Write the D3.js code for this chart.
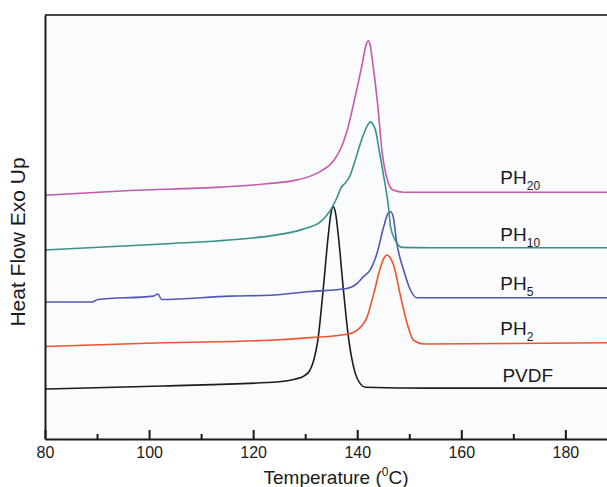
<!DOCTYPE html>
<html>
<head>
<meta charset="utf-8">
<script src="https://cdn.jsdelivr.net/npm/d3@7"></script>
<style>
  html, body { margin: 0; padding: 0; background: #ffffff; }
  svg { display: block; }
  text { font-family: Arial, "Liberation Sans", Helvetica, sans-serif; fill: #1a1a1a; }
</style>
</head>
<body>
<div id="chart"></div>
<script>
// ---- data (temperature °C, heat flow in arbitrary units) ----
const xTicksMajor = [80, 100, 120, 140, 160, 180];
const xTicksMinor = [90, 110, 130, 150, 170];

const pvdf = [
  [80, 1.18], [102.7, 1.25], [125.0, 1.35], [128.0, 1.41], [129.8, 1.49],
  [130.9, 1.62], [131.7, 1.88], [132.4, 2.30], [133.5, 3.58], [134.4, 4.76], [134.9, 5.28],
  [135.4, 5.48], [135.9, 5.28], [136.4, 4.76], [137.3, 3.58], [138.3, 2.41],
  [139.6, 1.56], [140.6, 1.30], [141.6, 1.22], [154.1, 1.20], [188, 1.20]
];
const ph2 = [
  [80, 2.18], [102.7, 2.27], [123.3, 2.33], [131.0, 2.39], [138.0, 2.47],
  [140.0, 2.57], [141.9, 2.88], [143.2, 3.44], [144.5, 4.06], [145.2, 4.28],
  [145.7, 4.34], [146.3, 4.28], [147.0, 4.10], [148.3, 3.38], [149.6, 2.72],
  [150.8, 2.33], [152.8, 2.24], [188, 2.27]
];
const ph5 = [
  [80, 3.23], [89.0, 3.23], [90.2, 3.29], [100.8, 3.37], [101.7, 3.42],
  [102.4, 3.29], [115.6, 3.37], [123.3, 3.39], [131.0, 3.48], [138.0, 3.55],
  [140.0, 3.67], [141.2, 3.83], [142.5, 3.99], [143.8, 4.38], [145.1, 5.01],
  [145.9, 5.32], [146.4, 5.36], [146.9, 5.25], [147.6, 4.62], [148.9, 3.99],
  [150.2, 3.52], [151.5, 3.33], [188, 3.33]
];
const ph10 = [
  [80, 4.46], [102.7, 4.60], [118.9, 4.73], [123.3, 4.79], [129.6, 4.95],
  [132.9, 5.12], [135.2, 5.47], [136.2, 5.72], [136.9, 5.93], [137.7, 6.04],
  [138.5, 6.18], [139.3, 6.45], [140.6, 6.97], [141.9, 7.38], [142.5, 7.48],
  [143.5, 7.29], [144.1, 6.89], [145.1, 6.19], [146.0, 5.48], [146.4, 5.01],
  [147.3, 4.69], [148.6, 4.52], [154.1, 4.51], [188, 4.51]
];
const ph20 = [
  [80, 5.75], [96.4, 5.86], [113.7, 5.94], [122.7, 6.02], [128.0, 6.10],
  [131.0, 6.20], [133.2, 6.33], [135.4, 6.55], [136.9, 6.87], [138.1, 7.29],
  [139.6, 8.07], [141.0, 8.87], [141.6, 9.25], [142.1, 9.39], [142.5, 9.28],
  [142.9, 8.94], [143.9, 7.92], [144.8, 6.75], [145.8, 6.11], [146.9, 5.87],
  [148.9, 5.82], [188, 5.82]
];

const seriesNames = ["PVDF", "PH2", "PH5", "PH10", "PH20"];
const seriesData = [pvdf, ph2, ph5, ph10, ph20];
const seriesColors = ["#1c1c1c", "#f0532f", "#5257b4", "#3c8f8b", "#c45ab0"];
// label anchor positions (temperature, heat flow) and text parts
const labelMain = ["PVDF", "PH", "PH", "PH", "PH"];
const labelSub = ["", "2", "5", "10", "20"];
const labelPos = [[167.9, 1.34], [167.5, 2.45], [167.5, 3.51], [167.5, 4.67], [167.5, 6.01]];

// ---- chart ----
const W = 607, H = 487;
const svg = d3.select("#chart").append("svg").attr("width", W).attr("height", H);

svg.append("rect").attr("x", 0).attr("y", 0).attr("width", W).attr("height", H).attr("fill", "#ffffff");
svg.append("rect").attr("x", 45).attr("y", 15).attr("width", W - 45).attr("height", 424).attr("fill", "#fafbfd");

const x = d3.scaleLinear().domain([80, 188]).range([45, 607]);
const y = d3.scaleLinear().domain([0, 10]).range([439, 15]);

const line = d3.line().x(d => x(d[0])).y(d => y(d[1])).curve(d3.curveMonotoneX);

seriesData.forEach((s, i) => {
  svg.append("path")
    .datum(s)
    .attr("fill", "none")
    .attr("stroke", seriesColors[i])
    .attr("stroke-width", 1.6)
    .attr("stroke-linejoin", "round")
    .attr("d", line);
});

// labels
labelMain.forEach((t, i) => {
  const txt = svg.append("text")
    .attr("x", x(labelPos[i][0]))
    .attr("y", y(labelPos[i][1]))
    .attr("font-size", 19);
  txt.append("tspan").text(t);
  if (labelSub[i]) {
    txt.append("tspan").attr("dy", 6).attr("font-size", 12).text(labelSub[i]);
  }
});

// top border
svg.append("line").attr("x1", 45).attr("x2", W).attr("y1", 15).attr("y2", 15)
  .attr("stroke", "#444").attr("stroke-width", 2);

// left axis (no ticks)
const yAxis = d3.axisLeft(y).tickValues([]).tickSizeOuter(0);
svg.append("g").attr("transform", "translate(45,0)").call(yAxis)
  .call(g => g.select(".domain").attr("stroke", "#1a1a1a").attr("stroke-width", 2));

// bottom axis: minor ticks
const xMinor = d3.axisBottom(x).tickValues(xTicksMinor).tickSize(-5).tickSizeOuter(0).tickFormat("");
svg.append("g").attr("transform", "translate(0,439)").call(xMinor)
  .call(g => g.select(".domain").remove())
  .call(g => g.selectAll(".tick line").attr("stroke", "#1a1a1a").attr("stroke-width", 2));

// bottom axis: major ticks
const xAxis = d3.axisBottom(x).tickValues(xTicksMajor).tickSize(-9).tickSizeOuter(0).tickPadding(8)
  .tickFormat(d3.format("d"));
svg.append("g").attr("transform", "translate(0,439)").call(xAxis)
  .call(g => g.select(".domain").attr("stroke", "#1a1a1a").attr("stroke-width", 2))
  .call(g => g.selectAll(".tick line").attr("stroke", "#1a1a1a").attr("stroke-width", 2))
  .call(g => g.selectAll(".tick text").attr("font-size", 16)
    .attr("font-family", "Arial, 'Liberation Sans', sans-serif").attr("fill", "#1a1a1a"));

// x title
const xt = svg.append("text").attr("x", 336).attr("y", 484).attr("text-anchor", "middle").attr("font-size", 19);
xt.append("tspan").text("Temperature (");
xt.append("tspan").attr("dy", -8).attr("font-size", 12).text("0");
xt.append("tspan").attr("dy", 8).text("C)");

// y title
svg.append("text")
  .attr("transform", "translate(25,242) rotate(-90)")
  .attr("text-anchor", "middle")
  .attr("font-size", 21)
  .text("Heat Flow Exo Up");
</script>
</body>
</html>
